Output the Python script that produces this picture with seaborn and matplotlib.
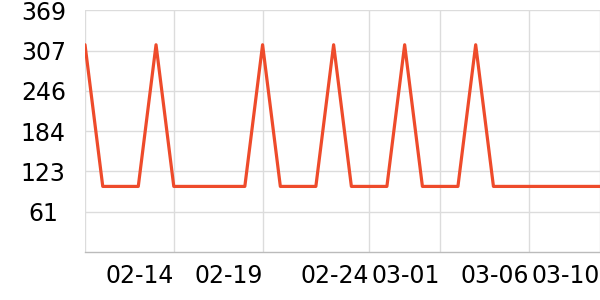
import matplotlib
matplotlib.use("Agg")
import matplotlib.pyplot as plt
import seaborn as sns
import pandas as pd

# ---- data ----
values = [316, 100, 100, 100, 316, 100, 100, 100, 100, 100,
          316, 100, 100, 100, 316, 100, 100, 100, 316, 100,
          100, 100, 316, 100, 100, 100, 100, 100, 100, 100]
tick_index = [0, 5, 10, 16, 20, 25, 29]
tick_labels = ["", "02-14", "02-19", "02-24", "03-01", "03-06", "03-10"]
y_ticks = [61, 123, 184, 246, 307, 369]
y_max = 369

df = pd.DataFrame({"idx": list(range(len(values))), "value": values})

sns.set_theme(style="white")
plt.rcParams["font.family"] = ["DejaVu Sans"]

fig = plt.figure(figsize=(6, 3), dpi=100)
ax = fig.add_axes([85 / 600, 1 - 252 / 300, 515 / 600, 242 / 300])

sns.lineplot(data=df, x="idx", y="value", ax=ax, color="#EE4B2B",
             linewidth=2.3, zorder=3)

ax.set_xlim(0, len(values) - 1)
ax.set_ylim(0, y_max)
ax.set_yticks(y_ticks)
ax.set_yticklabels([str(v) for v in y_ticks])
ax.set_xticks(tick_index)
ax.set_xticklabels(tick_labels, ha="right")

ax.grid(True, color="#dcdcdc", linewidth=1)
ax.set_axisbelow(True)
for s in ["top", "right", "left"]:
    ax.spines[s].set_visible(False)
ax.spines["bottom"].set_color("#bbbbbb")
ax.spines["bottom"].set_linewidth(1)

ax.tick_params(axis="y", length=0, pad=30, labelsize=17, colors="black")
for lab in ax.get_yticklabels():
    lab.set_horizontalalignment("center")
ax.tick_params(axis="x", length=3, width=1, color="#bbbbbb", pad=5.5,
               labelsize=17, labelcolor="black")
ax.set_xlabel("")
ax.set_ylabel("")

fig.savefig("out.png", dpi=100)
